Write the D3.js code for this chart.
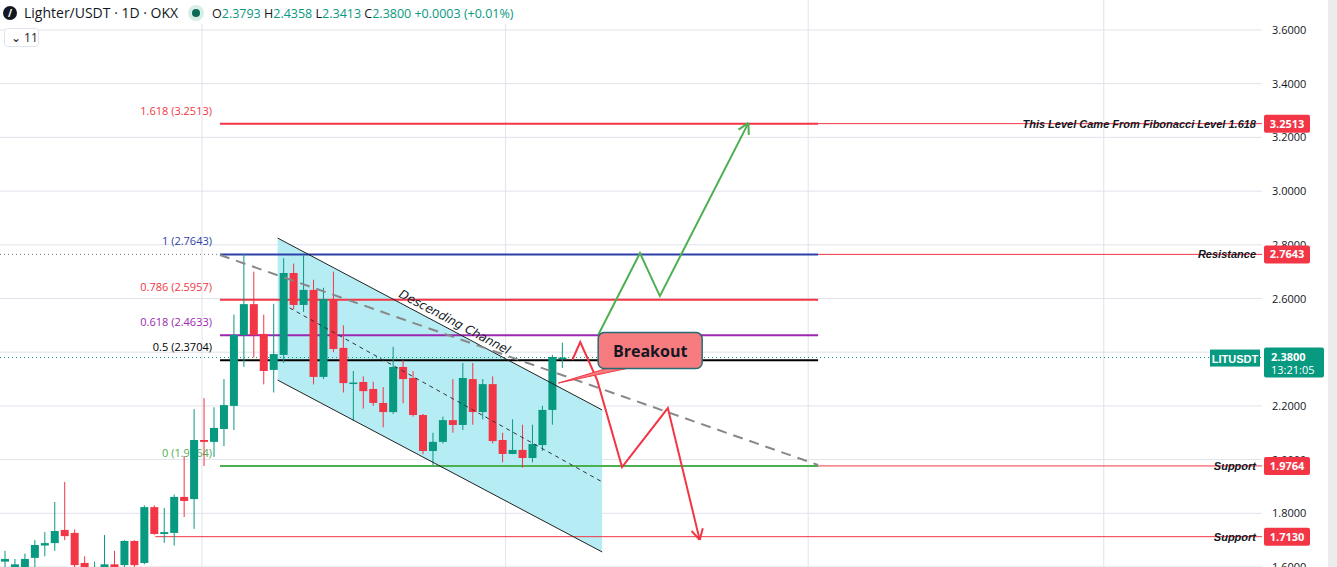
<!DOCTYPE html>
<html><head><meta charset="utf-8">
<script src="https://cdn.jsdelivr.net/npm/d3@7"></script>
<style>body{margin:0;background:#fff;font-family:"Open Sans",Roboto,sans-serif}</style>
</head><body><svg id="c" width="1337" height="567"></svg>
<script>
// candles: [open, high, low, close]
const opens  = [1.62,1.60,1.60,1.634,1.68,1.689,1.738,1.727,1.615,1.59,1.60,1.61,1.607,1.697,1.615,1.823,1.723,1.727,1.861,1.853,2.073,2.066,2.114,2.200,2.464,2.579,2.468,2.334,2.39,2.695,2.576,2.632,2.308,2.598,2.416,2.285,2.289,2.263,2.211,2.177,2.345,2.304,2.166,2.032,2.066,2.147,2.129,2.300,2.177,2.281,2.073,2.021,2.036,2.006,2.054,2.185,2.3793];
const highs  = [1.66,1.63,1.65,1.70,1.73,1.842,1.917,1.74,1.64,1.62,1.719,1.66,1.70,1.70,1.83,1.83,1.82,1.87,2.013,2.188,2.229,2.195,2.30,2.54,2.766,2.70,2.54,2.58,2.75,2.73,2.76,2.67,2.64,2.70,2.50,2.33,2.31,2.29,2.27,2.42,2.37,2.33,2.17,2.10,2.16,2.30,2.36,2.36,2.30,2.31,2.10,2.15,2.13,2.13,2.20,2.39,2.4358];
const lows   = [1.60,1.60,1.60,1.60,1.64,1.66,1.70,1.60,1.59,1.58,1.59,1.59,1.59,1.60,1.61,1.72,1.69,1.68,1.786,1.742,1.976,2.01,2.05,2.11,2.345,2.38,2.28,2.25,2.36,2.56,2.55,2.28,2.30,2.40,2.25,2.144,2.19,2.20,2.12,2.17,2.21,2.16,2.02,1.98,2.06,2.10,2.11,2.13,2.15,2.06,1.99,2.02,1.97,1.99,2.032,2.13,2.3413];
const closes = [1.63,1.61,1.63,1.682,1.689,1.734,1.715,1.607,1.60,1.60,1.61,1.60,1.697,1.607,1.823,1.723,1.730,1.861,1.846,2.073,2.066,2.118,2.203,2.464,2.579,2.464,2.330,2.393,2.695,2.576,2.632,2.308,2.598,2.412,2.285,2.287,2.255,2.211,2.177,2.345,2.300,2.166,2.032,2.066,2.147,2.129,2.304,2.177,2.281,2.069,2.021,2.036,2.006,2.058,2.185,2.382,2.3800];
const yTicks = [1.6,1.8,2.0,2.2,2.4,2.6,2.8,3.0,3.2,3.4,3.6];
const monthIdx = [19.8,50.3,80.7,110.4];
const fibLevels = [1.618,1,0.786,0.618,0.5,0];
const fibPrices = [3.2513,2.7643,2.5957,2.4633,2.3704,1.9764];
const fibColors = ["#f23645","#2d3fa8","#f23645","#9c27b0","#000000","#4caf50"];
const fibStart = 21.6, fibEnd = 81.7;
const chanTop = [[27.4,2.825],[60.0,2.185]];
const chanBot = [[27.4,2.296],[60.0,1.656]];
const chanMid = [[28.6,2.565],[60.0,1.917]];
const grayDash = [[21.6,2.762],[81.7,1.98]];
const greenPath = [[59.6,2.464],[63.8,2.769],[65.8,2.609],[74.7,3.254]];
const redPath = [[57.0,2.371],[57.8,2.438],[59.5,2.296],[62.0,1.972],[66.6,2.192],[69.8,1.701]];
const supports = [{p:1.9764,from:63.8,label:"Support"},{p:1.7130,from:15.1,label:"Support"},{p:2.7643,from:81.7,label:"Resistance"},{p:3.2513,from:81.7,label:"This Level Came From Fibonacci Level 1.618"}];
const lastPrice = 2.38;

const svg = d3.select("#c");
const x = d3.scaleLinear().domain([0,126.3]).range([5,1262]);
const y = d3.scaleLinear().domain([1.6,3.6]).range([567,30]);
const R = 1262;
const g = svg.append("g");
g.selectAll(".hg").data(yTicks).join("line").attr("x1",0).attr("x2",R).attr("y1",d=>y(d)).attr("y2",d=>y(d)).attr("stroke","#e0e3eb");
g.selectAll(".vg").data(monthIdx).join("line").attr("x1",d=>x(d)).attr("x2",d=>x(d)).attr("y1",0).attr("y2",567).attr("stroke","#e0e3eb");
const poly = [chanTop[0],chanTop[1],chanBot[1],chanBot[0]];
const ln = d3.line().x(d=>x(d[0])).y(d=>y(d[1]));
g.append("path").attr("d",ln(poly)+"Z").attr("fill","#b2ebf2").attr("opacity",0.95);
supports.forEach(s=>{g.append("line").attr("x1",x(s.from)).attr("x2",R).attr("y1",y(s.p)).attr("y2",y(s.p)).attr("stroke","#f23645").attr("stroke-width",1);});
g.append("line").attr("x1",0).attr("x2",x(fibStart)).attr("y1",y(2.7643)).attr("y2",y(2.7643)).attr("stroke","#787b86").attr("stroke-dasharray","1,3");
g.append("line").attr("x1",0).attr("x2",R).attr("y1",y(lastPrice)).attr("y2",y(lastPrice)).attr("stroke","#089981").attr("stroke-dasharray","1,3");
fibPrices.forEach((p,i)=>{
  g.append("line").attr("x1",x(fibStart)).attr("x2",x(fibEnd)).attr("y1",y(p)).attr("y2",y(p)).attr("stroke",fibColors[i]).attr("stroke-width",2);
  g.append("text").attr("x",x(fibStart)-8).attr("y",y(p)-9).attr("text-anchor","end").attr("font-size",11).attr("fill",fibColors[i]).text(`${fibLevels[i]} (${p.toFixed(4)})`);
});
const idx = d3.range(opens.length);
const cw = 8;
g.selectAll(".w").data(idx).join("line").attr("x1",i=>x(i)).attr("x2",i=>x(i)).attr("y1",i=>y(highs[i])).attr("y2",i=>y(lows[i])).attr("stroke",i=>closes[i]>=opens[i]?"#089981":"#f23645");
g.selectAll(".b").data(idx).join("rect").attr("x",i=>x(i)-cw/2).attr("width",cw).attr("y",i=>y(Math.max(opens[i],closes[i]))).attr("height",i=>Math.max(1.5,Math.abs(y(opens[i])-y(closes[i])))).attr("fill",i=>closes[i]>=opens[i]?"#089981":"#f23645");
[chanTop,chanBot].forEach(c=>g.append("path").attr("d",ln(c)).attr("stroke","#222").attr("fill","none"));
g.append("path").attr("d",ln(chanMid)).attr("stroke","#333").attr("stroke-dasharray","4,4").attr("fill","none");
g.append("path").attr("d",ln(grayDash)).attr("stroke","#888").attr("stroke-width",2).attr("stroke-dasharray","10,7").attr("fill","none");
const ang = Math.atan2(y(chanTop[1][1])-y(chanTop[0][1]),x(chanTop[1][0])-x(chanTop[0][0]))*180/Math.PI;
g.append("text").attr("transform",`translate(${x(39.5)},${y(2.607)}) rotate(${ang})`).attr("font-size",12).attr("fill","#131722").attr("font-style","italic").attr("font-family","DejaVu Sans").text("Descending Channel");
function arrowPath(pts,col){
  g.append("path").attr("d",ln(pts)).attr("stroke",col).attr("stroke-width",2).attr("fill","none");
  const a=pts[pts.length-2],b=pts[pts.length-1];
  const bx=x(b[0]),by=y(b[1]),t=Math.atan2(by-y(a[1]),bx-x(a[0]));
  [0.5,-0.5].forEach(s=>{const tt=t+Math.PI+s;g.append("line").attr("x1",bx).attr("y1",by).attr("x2",bx+12*Math.cos(tt)).attr("y2",by+12*Math.sin(tt)).attr("stroke",col).attr("stroke-width",2);});
}
arrowPath(greenPath,"#4caf50");
arrowPath(redPath,"#f23645");
const bx0=x(59.6), by0=y(2.473), bw=104, bh=36;
g.append("path").attr("d",`M${bx0+8},${by0+bh} L${x(55.6)},${y(2.285)} L${bx0+28},${by0+bh}Z`).attr("fill","#f77c80").attr("stroke","#f23645");
g.append("rect").attr("x",bx0).attr("y",by0).attr("width",bw).attr("height",bh).attr("rx",6).attr("fill","#f77c80").attr("stroke","#2a6a73").attr("stroke-width",1.5);
g.append("text").attr("x",bx0+bw/2).attr("y",by0+24).attr("text-anchor","middle").attr("font-size",16).attr("font-weight","bold").attr("fill","#131722").text("Breakout");
supports.forEach(s=>{
  g.append("text").attr("x",R-6).attr("y",y(s.p)+4).attr("text-anchor","end").attr("font-size",11).attr("font-style","italic").attr("font-weight","bold").attr("fill","#131722").attr("font-family","Liberation Sans").text(s.label);
});
const ax = svg.append("g");
ax.append("rect").attr("x",1328).attr("y",0).attr("width",9).attr("height",567).attr("fill","#ececec");
ax.selectAll("text").data(yTicks).join("text").attr("x",1272).attr("y",d=>y(d)+4).attr("font-size",11).attr("fill","#131722").text(d=>d.toFixed(4));
function tag(p,txt,col){
  ax.append("rect").attr("x",1264).attr("y",y(p)-9).attr("width",46).attr("height",18).attr("rx",2).attr("fill",col);
  ax.append("text").attr("x",1287).attr("y",y(p)+4).attr("text-anchor","middle").attr("font-size",11).attr("font-weight","bold").attr("fill","#fff").text(txt);
}
supports.forEach(s=>tag(s.p,s.p.toFixed(4),"#f23645"));
ax.append("rect").attr("x",1210).attr("y",y(lastPrice)-8).attr("width",50).attr("height",17).attr("fill","#089981");
ax.append("text").attr("x",1235).attr("y",y(lastPrice)+5).attr("text-anchor","middle").attr("font-size",11).attr("font-weight","bold").attr("fill","#fff").attr("font-family","Liberation Sans Narrow, Liberation Sans").text("LITUSDT");
ax.append("rect").attr("x",1264).attr("y",y(lastPrice)-10).attr("width",60).attr("height",30).attr("rx",2).attr("fill","#089981");
ax.append("text").attr("x",1271).attr("y",y(lastPrice)+3).attr("font-size",11).attr("font-weight","bold").attr("fill","#fff").text(lastPrice.toFixed(4));
ax.append("text").attr("x",1271).attr("y",y(lastPrice)+16).attr("font-size",11).attr("fill","#fff").text("13:21:05");
const h = svg.append("g");
h.append("rect").attr("x",0).attr("y",0).attr("width",560).attr("height",24).attr("fill","#fff");
h.append("circle").attr("cx",10).attr("cy",13).attr("r",7).attr("fill","#131722");
h.append("text").attr("x",8).attr("y",17).attr("font-size",10).attr("font-weight","bold").attr("fill","#fff").text("/");
h.append("text").attr("x",24).attr("y",18).attr("font-size",14).attr("fill","#131722").text("Lighter/USDT · 1D · OKX");
h.append("circle").attr("cx",196).attr("cy",13).attr("r",8).attr("fill","#d8efe9");
h.append("circle").attr("cx",196).attr("cy",13).attr("r",4).attr("fill","#0b6b57");
const ht = h.append("text").attr("x",212).attr("y",18).attr("font-size",12.5);
[["O","2.3793 "],["H","2.4358 "],["L","2.3413 "],["C","2.3800 +0.0003 (+0.01%)"]].forEach(([k,v])=>{ht.append("tspan").attr("fill","#131722").text(k);ht.append("tspan").attr("fill","#089981").text(v);});
h.append("rect").attr("x",4.5).attr("y",28.5).attr("width",34).attr("height",18).attr("rx",3).attr("fill","#fff").attr("stroke","#e0e3eb");
h.append("text").attr("x",11).attr("y",42).attr("font-size",12).attr("fill","#131722").text("⌄ 11");
</script></body></html>
